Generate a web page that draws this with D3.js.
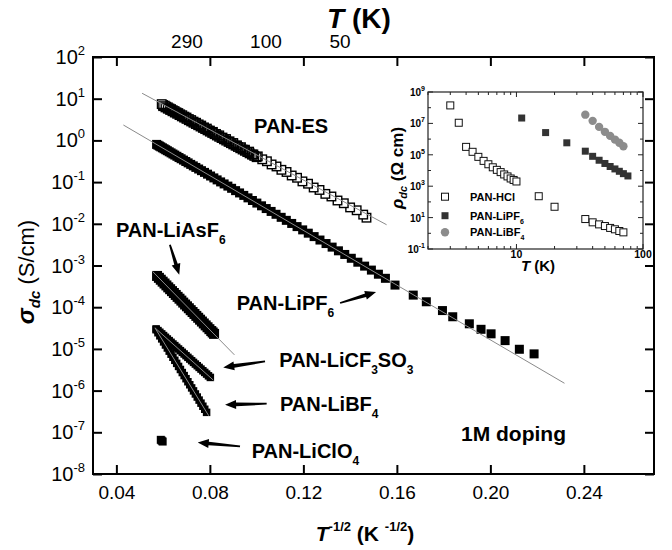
<!DOCTYPE html>
<html><head><meta charset="utf-8">
<script src="https://cdn.jsdelivr.net/npm/d3@7"></script>
<style>body{margin:0;background:#fff}svg{display:block}text{font-family:"Liberation Sans",Arial,Helvetica,sans-serif}</style>
</head><body><svg id="c" width="672" height="550"></svg>
<script>
// ---------------- main data: x = T^-1/2 (K^-1/2), sigma in S/cm ----------------
const esX=[0.0594,0.0600,0.0607,0.0613,0.0620,0.0627,0.0634,0.0641,0.0649,0.0657,
0.0665,0.0673,0.0682,0.0691,0.0700,0.0710,0.0720,0.0730,0.0741,0.0752,
0.0763,0.0775,0.0787,0.0800,0.0813,0.0826,0.0840,0.0854,0.0869,0.0884,
0.0900,0.0916,0.0933,0.0950,0.0968,0.0986,0.1005,0.1024,0.1044,0.1064,
0.1085,0.1106,0.1128,0.1150,0.1173,0.1196,0.1220,0.1244,0.1269,0.1294,
0.1320,0.1346,0.1373,0.1400,0.1428,0.1456,0.1470];
const esS=[7.41,7.05,6.80,6.45,6.20,5.85,5.62,5.30,5.05,4.72,
4.52,4.22,4.01,3.72,3.53,3.25,3.07,2.82,2.65,2.42,
2.27,2.05,1.92,1.72,1.60,1.43,1.32,1.17,1.08,0.95,
0.866,0.760,0.688,0.598,0.538,0.462,0.414,0.352,0.316,0.265,
0.237,0.197,0.175,0.144,0.127,0.104,0.0915,0.0742,0.0648,0.0522,
0.0452,0.0362,0.0311,0.0247,0.0211,0.0166,0.0140];
// second PAN-ES run (high-temperature part)
const es2X=[0.0600,0.0610,0.0620,0.0630,0.0640,0.0650,0.0660,0.0670,0.0680,0.0690,
0.0700,0.0710,0.0720,0.0730,0.0740,0.0750,0.0760,0.0770,0.0780,0.0790,
0.0800,0.0810,0.0820,0.0830,0.0840,0.0850,0.0860,0.0870,0.0880,0.0890,
0.0900,0.0910,0.0920,0.0930,0.0940,0.0950,0.0960,0.0970,0.0980,0.0990,0.1000];
const es2S=[6.63,6.18,5.76,5.37,5.00,4.66,4.35,4.05,3.77,3.52,
3.28,3.05,2.85,2.65,2.47,2.31,2.15,2.00,1.87,1.74,
1.62,1.51,1.41,1.31,1.22,1.14,1.06,0.989,0.922,0.859,
0.801,0.746,0.696,0.648,0.604,0.563,0.525,0.489,0.456,0.425,0.396];

const pfX=[0.0572,0.0578,0.0584,0.0590,0.0597,0.0604,0.0611,0.0618,0.0626,0.0634,
0.0642,0.0650,0.0659,0.0668,0.0677,0.0687,0.0697,0.0707,0.0718,0.0729,
0.0740,0.0752,0.0764,0.0777,0.0790,0.0803,0.0817,0.0831,0.0846,0.0861,
0.0877,0.0893,0.0910,0.0927,0.0945,0.0963,0.0982,0.1001,0.1021,0.1041,
0.1062,0.1083,0.1105,0.1127,0.1150,0.1173,0.1197,0.1221,0.1246,0.1271,
0.1297,0.1323,0.1350,0.1377,0.1405,0.1433,0.1462,0.1491,0.1521,0.1551,
0.1592,0.1670,0.1726,0.1795,0.1839,0.1910,0.1960,0.2003,0.2063,0.2124,0.2187];
const pfS=[0.802,0.766,0.732,0.700,0.664,0.630,0.597,0.566,0.533,0.502,
0.472,0.445,0.416,0.388,0.363,0.337,0.312,0.289,0.266,0.245,
0.225,0.206,0.188,0.171,0.155,0.140,0.126,0.113,0.101,0.0904,
0.0802,0.0710,0.0624,0.0550,0.0480,0.0419,0.0362,0.0314,0.0270,0.0232,
0.0198,0.0169,0.0143,0.0121,0.0102,0.00857,0.00715,0.00596,0.00493,0.00408,
0.00336,0.00276,0.00225,0.00184,0.00149,0.00120,0.000966,0.000776,0.000618,0.000493,
3.39e-4,1.95e-4,1.35e-4,8.3e-5,5.9e-5,4.0e-5,2.95e-5,2.3e-5,1.58e-5,9.8e-6,7.6e-6];

const asX=[0.0574,0.0582,0.0590,0.0598,0.0606,0.0614,0.0622,0.0630,0.0638,0.0646,
0.0654,0.0662,0.0670,0.0678,0.0686,0.0694,0.0702,0.0710,0.0718,0.0726,
0.0734,0.0742,0.0750,0.0758,0.0766,0.0774,0.0782,0.0790,0.0798,0.0806,0.0812,0.0818];
const asS=[5.62e-4,5.06e-4,4.56e-4,4.10e-4,3.70e-4,3.33e-4,2.99e-4,2.70e-4,2.43e-4,2.19e-4,
1.97e-4,1.77e-4,1.60e-4,1.44e-4,1.29e-4,1.16e-4,1.05e-4,9.44e-5,8.49e-5,7.66e-5,
6.89e-5,6.19e-5,5.58e-5,5.02e-5,4.53e-5,4.07e-5,3.66e-5,3.30e-5,2.97e-5,2.68e-5,2.48e-5,2.29e-5];

const cfX=[0.0570,0.0578,0.0586,0.0594,0.0602,0.0610,0.0618,0.0626,0.0634,0.0642,
0.0650,0.0658,0.0666,0.0674,0.0682,0.0690,0.0698,0.0706,0.0714,0.0722,
0.0730,0.0738,0.0746,0.0754,0.0762,0.0770,0.0778,0.0786,0.0794,0.0802];
const cfS=[3.02e-5,2.75e-5,2.51e-5,2.29e-5,2.09e-5,1.90e-5,1.73e-5,1.58e-5,1.44e-5,1.31e-5,
1.20e-5,1.09e-5,9.95e-6,9.08e-6,8.28e-6,7.55e-6,6.88e-6,6.27e-6,5.71e-6,5.21e-6,
4.75e-6,4.33e-6,3.95e-6,3.60e-6,3.28e-6,2.99e-6,2.73e-6,2.49e-6,2.26e-6,2.07e-6];

const bfX=[0.0570,0.0578,0.0586,0.0594,0.0602,0.0610,0.0618,0.0626,0.0634,0.0642,
0.0650,0.0658,0.0666,0.0674,0.0682,0.0690,0.0698,0.0706,0.0714,0.0722,
0.0730,0.0738,0.0746,0.0754,0.0762,0.0770,0.0778,0.0786];
const bfS=[2.88e-5,2.44e-5,2.06e-5,1.74e-5,1.47e-5,1.24e-5,1.05e-5,8.84e-6,7.47e-6,6.31e-6,
5.33e-6,4.50e-6,3.80e-6,3.21e-6,2.71e-6,2.29e-6,1.93e-6,1.63e-6,1.38e-6,1.16e-6,
9.84e-7,8.30e-7,7.01e-7,5.92e-7,5.00e-7,4.22e-7,3.57e-7,3.01e-7];

const clX=[0.0590,0.0594,0.0598];
const clS=[6.6e-8,6.3e-8,6.0e-8];

// fitted straight lines (end points)
const fitX0=[0.051,0.043,0.0555,0.0565,0.0565];
const fitX1=[0.1556,0.2317,0.0905,0.0815,0.0795];
const fitS0=[13.5,2.34,7.2e-4,3.2e-5,3.2e-5];
const fitS1=[0.0095,1.5e-6,7.2e-6,1.78e-6,2.5e-7];

// axes
const xTicks=[0.04,0.08,0.12,0.16,0.20,0.24];
const yExps=[-8,-7,-6,-5,-4,-3,-2,-1,0,1,2];
const topLabels=["290","100","50"];
const topLabelAt=[0.0702,0.1040,0.1357];

// annotations (data coords)
const labNames=["PAN-LiAsF","PAN-ES","PAN-LiPF","PAN-LiCF","PAN-LiBF","PAN-LiClO"];
const labSubs=[["6"],[],["6"],["3","SO","3"],["4"],["4"]];
const labX=[0.0398,0.0989,0.0915,0.1097,0.1100,0.0979];
const labS=[7.2e-3,2.25,1.29e-4,5.5e-6,4.9e-7,3.6e-8];
const arrX0=[0.0629,0.1357,0.1036,0.1043,0.0929];
const arrS0=[3.16e-3,1.26e-4,5.0e-6,4.85e-7,4.6e-8];
const arrX1=[0.0669,0.1511,0.0857,0.0865,0.0748];
const arrS1=[6.0e-4,2.32e-4,3.6e-6,4.6e-7,5.7e-8];

// ---------------- inset data: T (K), rho (Ohm cm) ----------------
const hclT=[3,3.5,4,4.5,5,5.5,6,6.5,7,7.5,8,8.5,9,9.5,10,15,20,35,40,45,50,55,60,65,70];
const hclR=[1.4e8,1.1e7,3.2e5,1.55e5,7.4e4,4.1e4,2.5e4,1.6e4,1.1e4,7.9e3,5.6e3,4.2e3,3.1e3,2.5e3,2.0e3,2.3e2,49,8.1,5.0,3.7,2.9,2.2,1.8,1.4,1.15];
const ipfT=[11,17,25,35,40,45,50,55,60,65,70,76];
const ipfR=[2.2e7,2.6e6,5.8e5,1.7e5,8.0e4,4.5e4,2.8e4,1.8e4,1.26e4,8.9e3,6.3e3,4.5e3];
const ibfT=[35,40,45,50,55,60,65,70];
const ibfR=[3.6e7,1.45e7,6.0e6,2.9e6,1.6e6,9.3e5,5.8e5,3.5e5];
const legNames=["PAN-HCl","PAN-LiPF","PAN-LiBF"];
const legSubs=["","6","4"];

// ---------------- drawing ----------------
const svg=d3.select('#c');
const x=d3.scaleLinear().domain([0.03,0.27]).range([93,654]);
const y=d3.scaleLog().domain([1e-8,1e2]).range([474,57]);

const plot=svg.append('g');
function squares(X,S,size,fill,stroke,sw,rev){
  let idx=d3.range(X.length); if(rev) idx.reverse();
  plot.append('g').selectAll('rect').data(idx).join('rect')
    .attr('x',i=>x(X[i])-size/2).attr('y',i=>y(S[i])-size/2)
    .attr('width',size).attr('height',size)
    .attr('fill',fill).attr('stroke',stroke).attr('stroke-width',sw);
}
squares(esX,esS,8.5,'#fff','#000',1.4,true);
squares(es2X,es2S,8.5,'none','#000',1.4,true);
squares(pfX,pfS,9,'#000','none',0,false);
squares(asX,asS,10,'#000','none',0,false);
squares(cfX,cfS,7.5,'#000','none',0,false);
squares(bfX,bfS,7.5,'#000','none',0,false);
squares(clX,clS,8,'#000','none',0,false);
plot.append('g').selectAll('line').data(fitX0).join('line')
  .attr('x1',(d,i)=>x(fitX0[i])).attr('y1',(d,i)=>y(fitS0[i]))
  .attr('x2',(d,i)=>x(fitX1[i])).attr('y2',(d,i)=>y(fitS1[i]))
  .attr('stroke','#8a8a8a').attr('stroke-width',1);

// axes
const ax=svg.append('g');
ax.append('g').attr('transform','translate(0,474)')
  .call(d3.axisBottom(x).tickValues(xTicks).tickSize(-9).tickPadding(12).tickFormat(d3.format('.2f')));
ax.append('g').attr('transform','translate(0,57)')
  .call(d3.axisTop(x).tickValues(xTicks).tickSize(-9).tickFormat(''));
ax.append('g').attr('transform','translate(93,0)')
  .call(d3.axisLeft(y).tickValues(yExps.map(e=>Math.pow(10,e))).tickSize(-9).tickFormat(''));
ax.append('g').attr('transform','translate(654,0)')
  .call(d3.axisRight(y).tickValues(yExps.map(e=>Math.pow(10,e))).tickSize(-9).tickFormat(''));
ax.selectAll('.domain').remove();
ax.selectAll('.tick line').attr('stroke','#000').attr('stroke-width',2);
ax.selectAll('.tick text').attr('font-size',19).attr('fill','#000')
  .style('font-family','"Liberation Sans",Arial,sans-serif');
svg.append('rect').attr('x',x(0.03)).attr('y',y(1e2)).attr('width',x(0.27)-x(0.03)).attr('height',y(1e-8)-y(1e2))
  .attr('fill','none').attr('stroke','#000').attr('stroke-width',2);

const yl=svg.append('g').selectAll('text').data(yExps).join('text')
  .attr('x',85).attr('y',e=>y(Math.pow(10,e))+7).attr('text-anchor','end').attr('font-size',20);
yl.append('tspan').text('10');
yl.append('tspan').attr('dy',-9).attr('font-size',13).text(e=>e);

svg.append('g').selectAll('text').data(topLabels).join('text')
  .attr('x',(d,i)=>x(topLabelAt[i])).attr('y',48).attr('text-anchor','middle').attr('font-size',19).text(d=>d);

const tt=svg.append('text').attr('x',359).attr('y',28).attr('text-anchor','middle').attr('font-size',28).attr('font-weight','bold');
tt.append('tspan').attr('font-style','italic').text('T');
tt.append('tspan').text(' (K)');

const xt=svg.append('text').attr('x',365).attr('y',541).attr('text-anchor','middle').attr('font-size',21).attr('font-weight','bold');
xt.append('tspan').attr('font-style','italic').text('T');
xt.append('tspan').attr('dy',-10).attr('font-size',13).text('-1/2');
xt.append('tspan').attr('dy',10).text(' (K ');
xt.append('tspan').attr('dy',-10).attr('font-size',13).text('-1/2');
xt.append('tspan').attr('dy',10).text(')');

const yt=svg.append('text').attr('transform','translate(34,272) rotate(-90)').attr('text-anchor','middle').attr('font-size',22);
yt.append('tspan').attr('font-weight','bold').attr('font-style','italic').attr('font-size',24).text('σ');
yt.append('tspan').attr('font-weight','bold').attr('font-style','italic').attr('font-size',15).attr('dy',6).text('dc');
yt.append('tspan').attr('dy',-6).text(' (S/cm)');

const ann=svg.append('g').attr('font-weight','bold').attr('font-size',20);
labNames.forEach((n,i)=>{
  const t=ann.append('text').attr('x',x(labX[i])).attr('y',y(labS[i])+7);
  t.append('tspan').text(n);
  let down=false;
  labSubs[i].forEach(s=>{
    if(/^[0-9]+$/.test(s)){ t.append('tspan').attr('dy',down?0:7).attr('font-size',12).text(s); down=true; }
    else { t.append('tspan').attr('dy',down?-7:0).text(s); down=false; }
  });
});
function arrow(x1,y1,x2,y2){
  const dx=x2-x1,dy=y2-y1,L=Math.hypot(dx,dy),ux=dx/L,uy=dy/L,px=-uy,py=ux;
  const hl=11,hw=4.5,tw=0.9,sw=1.8;
  const bx=x2-ux*hl,by=y2-uy*hl;
  const pts=[[x1+px*tw,y1+py*tw],[bx+px*sw,by+py*sw],[bx+px*hw,by+py*hw],[x2,y2],
    [bx-px*hw,by-py*hw],[bx-px*sw,by-py*sw],[x1-px*tw,y1-py*tw]];
  svg.append('path').attr('d','M'+pts.map(p=>p.join(',')).join('L')+'Z').attr('fill','#000');
}
arrX0.forEach((d,i)=>arrow(x(arrX0[i]),y(arrS0[i]),x(arrX1[i]),y(arrS1[i])));

svg.append('text').attr('x',461).attr('y',441).attr('font-size',21).attr('font-weight','bold').text('1M doping');

// ---------------- inset ----------------
const ix=d3.scaleLog().domain([2,100]).range([428,643]);
const iy=d3.scaleLog().domain([0.1,1e9]).range([249,92]);
const ins=svg.append('g');
ins.append('rect').attr('x',ix(2)).attr('y',iy(1e9)).attr('width',ix(100)-ix(2)).attr('height',iy(0.1)-iy(1e9))
  .attr('fill','#fff').attr('stroke','#222').attr('stroke-width',1.2);
const xMinor=[2,3,4,5,6,7,8,9,10,20,30,40,50,60,70,80,90,100];
const yDec=d3.range(-1,10);
ins.append('g').selectAll('line').data(xMinor).join('line')
  .attr('x1',d=>ix(d)).attr('x2',d=>ix(d)).attr('y1',iy(0.1)).attr('y2',d=>iy(0.1)-((d===10||d===100)?5:3))
  .attr('stroke','#222');
ins.append('g').selectAll('line').data(xMinor).join('line')
  .attr('x1',d=>ix(d)).attr('x2',d=>ix(d)).attr('y1',iy(1e9)).attr('y2',d=>iy(1e9)+((d===10||d===100)?5:3))
  .attr('stroke','#222');
ins.append('g').selectAll('line').data(yDec).join('line')
  .attr('x1',ix(2)).attr('x2',e=>ix(2)+(e%2?5:3)).attr('y1',e=>iy(Math.pow(10,e))).attr('y2',e=>iy(Math.pow(10,e)))
  .attr('stroke','#222');
ins.append('g').selectAll('line').data(yDec).join('line')
  .attr('x1',ix(100)).attr('x2',e=>ix(100)-(e%2?5:3)).attr('y1',e=>iy(Math.pow(10,e))).attr('y2',e=>iy(Math.pow(10,e)))
  .attr('stroke','#222');
const iyl=ins.append('g').selectAll('text').data(yDec.filter(e=>e%2!==0)).join('text')
  .attr('x',ix(2)-3).attr('y',e=>iy(Math.pow(10,e))+4).attr('text-anchor','end').attr('font-size',10).attr('font-weight','bold');
iyl.append('tspan').text('10');
iyl.append('tspan').attr('dy',-5).attr('font-size',7).text(e=>e);
ins.append('g').selectAll('text').data([10,100]).join('text')
  .attr('x',d=>ix(d)).attr('y',258).attr('text-anchor','middle').attr('font-size',10.5).attr('font-weight','bold').text(d=>d);
const ixt=ins.append('text').attr('x',538).attr('y',271).attr('text-anchor','middle').attr('font-size',15).attr('font-weight','bold');
ixt.append('tspan').attr('font-style','italic').text('T');
ixt.append('tspan').text(' (K)');
const iyt=ins.append('text').attr('transform','translate(403,168) rotate(-90)').attr('text-anchor','middle').attr('font-size',17).attr('font-weight','bold');
iyt.append('tspan').attr('font-style','italic').text('ρ');
iyt.append('tspan').attr('font-style','italic').attr('font-size',11).attr('dy',4).text('dc');
iyt.append('tspan').attr('dy',-4).text(' (Ω cm)');

const im=ins.append('g');
im.selectAll('.h').data(hclT).join('rect').attr('class','h')
  .attr('x',(d,i)=>ix(hclT[i])-3.5).attr('y',(d,i)=>iy(hclR[i])-3.5).attr('width',7).attr('height',7)
  .attr('fill','#fff').attr('stroke','#111').attr('stroke-width',1);
im.selectAll('.p').data(ipfT).join('rect').attr('class','p')
  .attr('x',(d,i)=>ix(ipfT[i])-3.5).attr('y',(d,i)=>iy(ipfR[i])-3.5).attr('width',7).attr('height',7)
  .attr('fill','#333');
im.selectAll('.b').data(ibfT).join('circle').attr('class','b')
  .attr('cx',(d,i)=>ix(ibfT[i])).attr('cy',(d,i)=>iy(ibfR[i])).attr('r',4.2)
  .attr('fill','#8c8c8c');

const legY=[196.7,215.7,232.3];
const lg=ins.append('g');
lg.append('rect').attr('x',441.5).attr('y',legY[0]-3.5).attr('width',7).attr('height',7).attr('fill','#fff').attr('stroke','#111');
lg.append('rect').attr('x',441.5).attr('y',legY[1]-3.5).attr('width',7).attr('height',7).attr('fill','#333');
lg.append('circle').attr('cx',445).attr('cy',legY[2]).attr('r',4.2).attr('fill','#8c8c8c');
legNames.forEach((n,i)=>{
  const t=lg.append('text').attr('x',470).attr('y',legY[i]+4).attr('font-size',11).attr('font-weight','bold');
  t.append('tspan').text(n);
  if(legSubs[i]) t.append('tspan').attr('dy',4).attr('font-size',7).text(legSubs[i]);
});
</script></body></html>
